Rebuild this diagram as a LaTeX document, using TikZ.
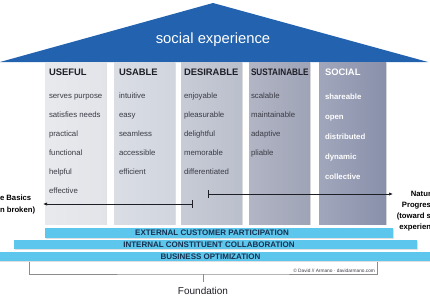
\documentclass[tikz,border=0pt]{standalone}
\usepackage{fontspec}
\setmainfont{Liberation Sans}
\usetikzlibrary{arrows.meta,positioning,calc,shadows}
\definecolor{Roof}{HTML}{2262AE}
\definecolor{ColA}{HTML}{E2E4E9}
\definecolor{ColB}{HTML}{D1D5DE}
\definecolor{ColC}{HTML}{BABFCC}
\definecolor{ColD}{HTML}{9EA3B6}
\definecolor{ColE}{HTML}{8990AA}
\definecolor{Sky}{HTML}{5CC6EC}
\definecolor{Navy}{HTML}{17304F}
\definecolor{Ink}{HTML}{1E1E26}
\definecolor{Word}{HTML}{3A3B44}
\definecolor{Rule}{HTML}{8C8C8C}

\begin{document}
\begin{tikzpicture}[x=1pt,y=-1pt,every node/.style={inner sep=0pt,outer sep=0pt},
    pillar/.style={left color=#1!80!white,right color=#1,minimum width=61pt,minimum height=162pt,anchor=north west,
      drop shadow={opacity=0.25,shadow xshift=1.2pt,shadow yshift=-0.6pt}},
    head/.style={anchor=west,font=\bfseries\fontsize{9.4}{10}\selectfont,text=Ink},
    word/.style={anchor=base west,font=\fontsize{7.8}{9}\selectfont,text=Word},
    band/.style={fill=Sky,minimum height=9.5pt,
      drop shadow={opacity=0.25,shadow xshift=1pt,shadow yshift=-0.8pt}},
    bandtext/.style={font=\bfseries\fontsize{8}{9}\selectfont,text=Navy},
    side/.style={font=\bfseries\fontsize{7.7}{11.2}\selectfont,text=black}]
  \useasboundingbox (0,0) rectangle (430,297);

  % roof
  \fill[Roof] (0,62) -- (213,3) -- (428,62) -- cycle;
  \node[text=white,font=\fontsize{14.8}{16}\selectfont] (roof) at (213,40) {social experience};

  % pillars
  \node[pillar=ColA] (useful) at (45,62) {};
  \node[pillar=ColB] (usable) at (114,62) {};
  \node[pillar=ColC] (desirable) at (181,62) {};
  \node[pillar=ColD] (sustainable) at (249,62) {};
  \node[pillar=ColE,minimum width=67pt] (social) at (319,62) {};

  \node[head] (hUseful) at (49,72) {USEFUL};
  \node[head] (hUsable) at (119,72) {USABLE};
  \node[head] (hDesirable) at (184,72) {DESIRABLE};
  \node[head] (hSustainable) at (251,72) {\scalebox{0.87}[1]{SUSTAINABLE}};
  \node[head,text=white] (hSocial) at (325,72) {SOCIAL};

  \foreach \t [count=\i] in {serves purpose,satisfies needs,practical,functional,helpful,effective}
    \node[word] (useful\i) at (49,79+19*\i) {\t};
  \foreach \t [count=\i] in {intuitive,easy,seamless,accessible,efficient}
    \node[word] (usable\i) at (119,79+19*\i) {\t};
  \foreach \t [count=\i] in {enjoyable,pleasurable,delightful,memorable,differentiated}
    \node[word] (desirable\i) at (184,79+19*\i) {\t};
  \foreach \t [count=\i] in {scalable,maintainable,adaptive,pliable}
    \node[word] (sustainable\i) at (251,79+19*\i) {\t};
  \foreach \t [count=\i] in {shareable,open,distributed,dynamic,collective}
    \node[word,text=white,font=\bfseries\fontsize{7.8}{9}\selectfont] (social\i) at (325,79+20*\i) {\t};

  % progression arrows
  \coordinate (backFrom) at (193,204);
  \coordinate (backTo) at (43,204);
  \coordinate (aheadFrom) at (208,194);
  \coordinate (aheadTo) at (393,194);
  \foreach \x/\y in {backFrom/backTo,aheadFrom/aheadTo}
    \draw[{Bar[width=8pt]}-{Latex[length=4pt,width=3.2pt]},line width=0.7pt,Ink] (\x) -- (\y);

  \node[side,align=left,anchor=west] (basics) at (0,204.5) {e Basics\\n broken)};
  \node[side,align=right,anchor=east] (natural) at (431,211) {Natur\\Progres\\(toward s\\experien};

  % foundation bands
  \node[band,minimum width=348pt] (external) at (219,233) {};
  \node[band,minimum width=403pt] (internal) at (215.5,244.5) {};
  \node[band,minimum width=434pt] (business) at (215,256.5) {};
  \node[bandtext] (tExternal) at (212,233) {EXTERNAL CUSTOMER PARTICIPATION};
  \node[bandtext] (tInternal) at (209,244.5) {INTERNAL CONSTITUENT COLLABORATION};
  \node[bandtext] (tBusiness) at (210.5,256.5) {BUSINESS OPTIMIZATION};

  % bracket
  \coordinate (bl) at (29,261.5);
  \coordinate (br) at (377,261.5);
  \coordinate (bm) at (203,274);
  \draw[Rule,line width=0.6pt] (bl) |- (bm) -| (br);
  \draw[Rule,line width=0.6pt] (bm) -- ++(0,8);
  \node[font=\fontsize{4.8}{5}\selectfont,text=Word,anchor=east] (credit) at (375,271) {\textcopyright{} David // Armano · davidarmano.com};
  \node[font=\fontsize{10}{12}\selectfont,text=Ink] (foundation) at (203,291) {Foundation};
\end{tikzpicture}
\end{document}
